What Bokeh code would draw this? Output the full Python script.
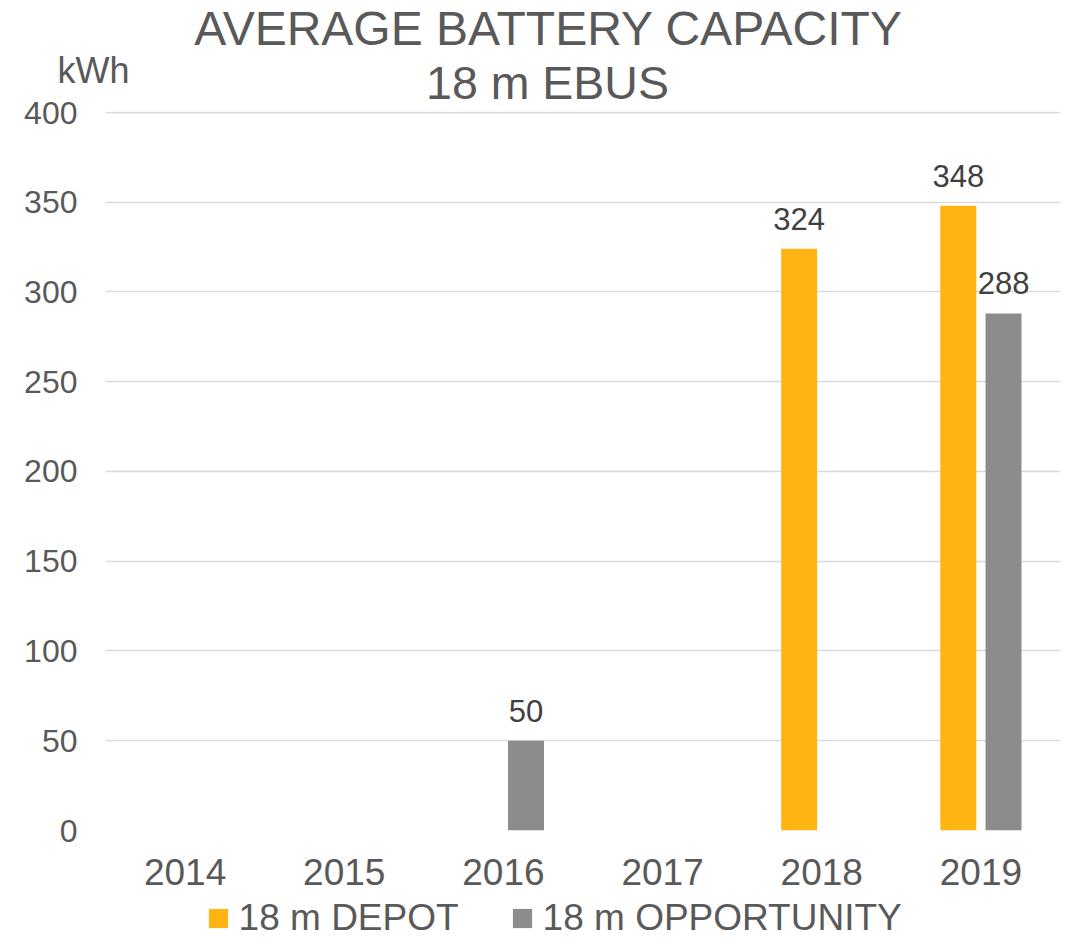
from bokeh.plotting import figure
from bokeh.models import ColumnDataSource, Label, Legend, LegendItem, FactorRange, SingleIntervalTicker
from bokeh.transform import dodge
from bokeh.core.properties import value
from bokeh.embed import file_html
from bokeh.resources import INLINE

years = ["2014", "2015", "2016", "2017", "2018", "2019"]
depot = [None, None, None, None, 324, 348]
opportunity = [None, None, 50, None, None, 288]
series_names = ["18 m DEPOT", "18 m OPPORTUNITY"]
title_lines = ["AVERAGE BATTERY CAPACITY", "18 m EBUS"]
y_unit = "kWh"

ORANGE = "#FFB414"
GRAY = "#8C8C8C"
TXT = "#595959"
LBL = "#404040"
FONT = "Liberation Sans"
W = 1060
TOP_H = 101
MAIN_H = 801
LEG_H = 36


def bare(h):
    f = figure(width=W, height=h, x_range=(0, W), y_range=(0, h),
               x_axis_type=None, y_axis_type=None,
               output_backend="svg", toolbar_location=None,
               min_border_left=0, min_border_right=0, min_border_top=0, min_border_bottom=0)
    f.grid.visible = False
    f.outline_line_color = None
    return f


# ---------- header (title + unit) ----------
head = bare(TOP_H)
head.add_layout(Label(x=548, y=TOP_H - 46.7 + 19.2, x_units="screen", y_units="screen", text=title_lines[0],
                      text_align="center", text_baseline="alphabetic",
                      text_font=FONT, text_font_size="48px", text_color=TXT))
head.add_layout(Label(x=547, y=TOP_H - 100.7 + 18.6, x_units="screen", y_units="screen", text=title_lines[1],
                      text_align="center", text_baseline="alphabetic",
                      text_font=FONT, text_font_size="46.5px", text_color=TXT))
head.add_layout(Label(x=57, y=TOP_H - 82.7 + 12.6, x_units="screen", y_units="screen", text=y_unit,
                      text_align="left", text_baseline="alphabetic",
                      text_font=FONT, text_font_size="36px", text_color=TXT))

# ---------- main chart ----------
nan = float("nan")
src = ColumnDataSource(dict(
    year=years,
    depot=[nan if v is None else v for v in depot],
    opp=[nan if v is None else v for v in opportunity],
))
lab_d = ColumnDataSource(dict(
    year=[y for y, v in zip(years, depot) if v is not None],
    val=[v for v in depot if v is not None],
    txt=[str(v) for v in depot if v is not None],
))
lab_o = ColumnDataSource(dict(
    year=[y for y, v in zip(years, opportunity) if v is not None],
    val=[v for v in opportunity if v is not None],
    txt=[str(v) for v in opportunity if v is not None],
))

p = figure(x_range=FactorRange(*years), y_range=(0, 400.5),
           width=W, height=MAIN_H, output_backend="svg", toolbar_location=None,
           min_border_left=105, min_border_right=0, min_border_top=10,
           min_border_bottom=MAIN_H - 10 - 719)
p.outline_line_color = None
p.background_fill_color = "white"
p.border_fill_color = "white"

off = 0.142
bw = 0.226
p.vbar(x=dodge("year", -off, range=p.x_range), top="depot", width=bw, source=src,
       fill_color=ORANGE, line_color=None)
p.vbar(x=dodge("year", off, range=p.x_range), top="opp", width=bw, source=src,
       fill_color=GRAY, line_color=None)

p.text(x=dodge("year", -off, range=p.x_range), y="val", text="txt", source=lab_d,
       text_align="center", text_baseline="alphabetic", y_offset=-30,
       text_font=value(FONT), text_font_size="31px", text_color=LBL)
p.text(x=dodge("year", off, range=p.x_range), y="val", text="txt", source=lab_o,
       text_align="center", text_baseline="alphabetic", y_offset=-30,
       text_font=value(FONT), text_font_size="31px", text_color=LBL)

p.xgrid.grid_line_color = None
p.ygrid.grid_line_color = "#D9D9D9"
p.ygrid.grid_line_width = 1.5
p.yaxis.ticker = SingleIntervalTicker(interval=50)

for ax in (p.xaxis, p.yaxis):
    ax.axis_line_color = None
    ax.major_tick_line_color = None
    ax.minor_tick_line_color = None
    ax.major_tick_out = 0
    ax.major_tick_in = 0
    ax.major_label_text_font = FONT
    ax.major_label_text_color = TXT
p.yaxis.major_label_text_font_size = "32px"
p.yaxis.major_label_standoff = 24
p.xaxis.major_label_text_font_size = "37px"
p.xaxis.major_label_standoff = 28
p.x_range.range_padding = 0
p.x_range.group_padding = 0

# ---------- legend strip ----------
leg = bare(LEG_H)
proxy = ColumnDataSource(dict(x=[0], top=[0]))
g1 = leg.vbar(x="x", top="top", width=0, source=proxy, fill_color=ORANGE, line_color=None)
g2 = leg.vbar(x="x", top="top", width=0, source=proxy, fill_color=GRAY, line_color=None)
legend = Legend(items=[LegendItem(label=series_names[0], renderers=[g1]),
                       LegendItem(label=series_names[1], renderers=[g2])],
                orientation="horizontal", location=(205.6, -1),
                glyph_width=24, glyph_height=24, label_standoff=9, spacing=51,
                padding=0, margin=0, border_line_color=None, background_fill_alpha=0,
                label_text_font=FONT, label_text_font_size="37px", label_text_color=TXT)
leg.add_layout(legend, "center")

open("out.html", "w").write(file_html((head, p, leg), INLINE))
